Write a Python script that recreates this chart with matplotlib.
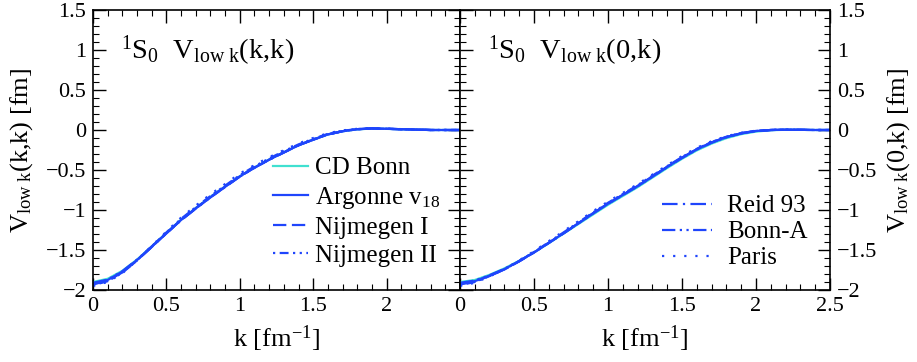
import numpy as np
import matplotlib
matplotlib.use("Agg")
import matplotlib.pyplot as plt
from matplotlib.ticker import MultipleLocator, FuncFormatter

plt.rcParams['font.family'] = ['Liberation Serif', 'DejaVu Serif']
plt.rcParams['mathtext.fontset'] = 'custom'
plt.rcParams['mathtext.rm'] = 'Liberation Serif'
plt.rcParams['mathtext.it'] = 'Liberation Serif:italic'

# momentum grid [fm^-1]
k = [0.0, 0.1, 0.2, 0.3, 0.4, 0.5, 0.6, 0.7, 0.8, 0.9, 1.0, 1.1, 1.2,
     1.3, 1.4, 1.5, 1.6, 1.7, 1.8, 1.9, 2.0, 2.1, 2.2, 2.3, 2.4, 2.5]

# diagonal V_low k(k,k) [fm]
cdbonn_kk = [-1.90, -1.86, -1.76, -1.62, -1.455, -1.285, -1.12, -0.975, -0.835, -0.705, -0.578, -0.468, -0.368,
             -0.278, -0.19, -0.12, -0.056, -0.016, 0.008, 0.018, 0.014, 0.009, 0.004, 0.0, 0.0, 0.0]
av18_kk = [-1.92, -1.875, -1.77, -1.625, -1.46, -1.29, -1.125, -0.98, -0.84, -0.71, -0.58, -0.47, -0.37,
           -0.28, -0.19, -0.12, -0.055, -0.015, 0.01, 0.02, 0.015, 0.01, 0.005, 0.0, 0.0, 0.0]
nijm1_kk = [-1.93, -1.885, -1.78, -1.63, -1.462, -1.292, -1.127, -0.982, -0.842, -0.712, -0.582, -0.472, -0.372,
            -0.281, -0.192, -0.121, -0.056, -0.015, 0.01, 0.02, 0.015, 0.01, 0.005, 0.0, 0.0, 0.0]
nijm2_kk = [-1.94, -1.89, -1.785, -1.63, -1.455, -1.28, -1.11, -0.965, -0.825, -0.695, -0.565, -0.455, -0.355,
            -0.265, -0.18, -0.11, -0.048, -0.01, 0.012, 0.02, 0.015, 0.01, 0.005, 0.0, 0.0, 0.0]
reid93_kk = [-1.925, -1.88, -1.775, -1.628, -1.463, -1.293, -1.128, -0.983, -0.843, -0.713, -0.583, -0.473, -0.372,
             -0.282, -0.192, -0.122, -0.057, -0.016, 0.009, 0.019, 0.015, 0.01, 0.005, 0.0, 0.0, 0.0]
bonna_kk = [-1.91, -1.87, -1.765, -1.62, -1.456, -1.287, -1.122, -0.977, -0.837, -0.707, -0.578, -0.468, -0.368,
            -0.278, -0.19, -0.12, -0.055, -0.015, 0.01, 0.02, 0.015, 0.01, 0.005, 0.0, 0.0, 0.0]
paris_kk = [-1.95, -1.9, -1.79, -1.63, -1.45, -1.27, -1.095, -0.945, -0.805, -0.675, -0.545, -0.438, -0.34,
            -0.252, -0.168, -0.1, -0.04, -0.005, 0.015, 0.022, 0.017, 0.011, 0.005, 0.0, 0.0, 0.0]

# half-off-shell V_low k(0,k) [fm]
cdbonn_0k = [-1.90, -1.875, -1.81, -1.73, -1.635, -1.53, -1.415, -1.295, -1.175, -1.055, -0.935, -0.825, -0.715,
             -0.595, -0.475, -0.36, -0.255, -0.17, -0.102, -0.052, -0.02, -0.003, 0.003, 0.002, 0.0, 0.0]
av18_0k = [-1.92, -1.89, -1.82, -1.74, -1.64, -1.53, -1.41, -1.29, -1.165, -1.04, -0.92, -0.81, -0.70,
           -0.58, -0.46, -0.345, -0.24, -0.155, -0.088, -0.04, -0.012, 0.0, 0.004, 0.002, 0.0, 0.0]
nijm1_0k = [-1.93, -1.895, -1.825, -1.743, -1.642, -1.532, -1.412, -1.292, -1.167, -1.042, -0.922, -0.812, -0.702,
            -0.582, -0.462, -0.347, -0.242, -0.156, -0.089, -0.041, -0.012, 0.0, 0.004, 0.002, 0.0, 0.0]
nijm2_0k = [-1.94, -1.9, -1.826, -1.742, -1.638, -1.525, -1.402, -1.28, -1.155, -1.03, -0.91, -0.8, -0.69,
            -0.571, -0.452, -0.338, -0.235, -0.15, -0.084, -0.038, -0.011, 0.0, 0.004, 0.002, 0.0, 0.0]
reid93_0k = [-1.925, -1.893, -1.823, -1.742, -1.641, -1.531, -1.411, -1.291, -1.166, -1.041, -0.921, -0.811, -0.701,
             -0.581, -0.461, -0.346, -0.241, -0.156, -0.089, -0.041, -0.012, 0.0, 0.004, 0.002, 0.0, 0.0]
bonna_0k = [-1.91, -1.882, -1.815, -1.736, -1.637, -1.528, -1.409, -1.289, -1.165, -1.041, -0.922, -0.813, -0.703,
            -0.584, -0.465, -0.35, -0.245, -0.158, -0.091, -0.043, -0.013, 0.0, 0.004, 0.002, 0.0, 0.0]
paris_0k = [-1.95, -1.91, -1.83, -1.74, -1.63, -1.515, -1.39, -1.265, -1.14, -1.015, -0.895, -0.787, -0.677,
            -0.558, -0.44, -0.325, -0.222, -0.14, -0.078, -0.034, -0.009, 0.001, 0.004, 0.002, 0.0, 0.0]

blue = '#1f45fc'
styles = {
    'CD Bonn': dict(color='#40e0d0', ls='-'),
    r'Argonne v$_{18}$': dict(color=blue, ls='-'),
    'Nijmegen I': dict(color=blue, ls=(0, (6, 2.5))),
    'Nijmegen II': dict(color=blue, ls=(0, (1, 2, 4, 2, 1, 2))),
    'Reid 93': dict(color=blue, ls=(0, (7, 2.4, 1, 2.4))),
    'Bonn-A': dict(color=blue, ls=(0, (6, 2, 1, 2, 1, 2))),
    'Paris': dict(color=blue, ls=(0, (1, 4))),
}
names = list(styles.keys())
diag = [cdbonn_kk, av18_kk, nijm1_kk, nijm2_kk, reid93_kk, bonna_kk, paris_kk]
half = [cdbonn_0k, av18_0k, nijm1_0k, nijm2_0k, reid93_0k, bonna_0k, paris_0k]

fig = plt.figure(figsize=(9.17, 3.62), dpi=100)
W, H = 917, 362
ax1 = fig.add_axes([93 / W, 72 / H, 367 / W, 280 / H])
ax2 = fig.add_axes([460 / W, 72 / H, 370 / W, 280 / H])

fmt = FuncFormatter(lambda v, p: ('%g' % v).replace('-', '\u2212'))

for ax, data in ((ax1, diag), (ax2, half)):
    for name, vals in zip(names, data):
        ax.plot(k, vals, lw=1.6, label=name, **styles[name])
    ax.set_xlim(0, 2.5)
    ax.set_ylim(-2, 1.5)
    ax.xaxis.set_major_locator(MultipleLocator(0.5))
    ax.xaxis.set_minor_locator(MultipleLocator(0.1))
    ax.yaxis.set_major_locator(MultipleLocator(0.5))
    ax.yaxis.set_minor_locator(MultipleLocator(0.1))
    ax.xaxis.set_major_formatter(fmt)
    ax.yaxis.set_major_formatter(fmt)
    ax.tick_params(which='both', direction='in', top=True, right=True, labelsize=16, pad=5)
    ax.tick_params(which='major', length=9, width=1)
    ax.tick_params(which='minor', length=4.5, width=0.8)
    for s in ax.spines.values():
        s.set_linewidth(1.2)
    ax.set_xlabel(r'k [fm$^{-1}$]', fontsize=19)
    ax.xaxis.set_label_coords(0.5, -0.12)

# left panel: hide the 2.5 label (shared with right panel's 0)
ax1.xaxis.set_major_formatter(FuncFormatter(
    lambda v, p: '' if v > 2.4 else ('%g' % v).replace('-', '\u2212')))
ax2.tick_params(axis='y', labelleft=False, labelright=True)

ax1.set_ylabel(r'V$_{\rm low\ k}$(k,k) [fm]', fontsize=19)
ax1.yaxis.set_label_coords(-0.157, 0.5)
ax2.set_ylabel(r'V$_{\rm low\ k}$(0,k) [fm]', fontsize=19)
ax2.yaxis.set_label_position('right')
ax2.yaxis.set_label_coords(1.15, 0.5)
ax2.yaxis.label.set_rotation(90)

ax1.text(0.075, 0.855, r'$^{1}$S$_{0}$  V$_{\rm low\ k}$(k,k)', transform=ax1.transAxes,
         fontsize=20.5, va='center')
ax2.text(0.075, 0.855, r'$^{1}$S$_{0}$  V$_{\rm low\ k}$(0,k)', transform=ax2.transAxes,
         fontsize=20.5, va='center')

h1 = ax1.get_lines()[:4]
ax1.legend(h1, names[:4], loc='upper left', bbox_to_anchor=(0.49, 0.475), frameon=False,
           fontsize=18, handlelength=1.4, handletextpad=0.3, labelspacing=0.22, borderpad=0,
           borderaxespad=0)
h2 = ax2.get_lines()[4:7]
ax2.legend(h2, names[4:], loc='upper left', bbox_to_anchor=(0.546, 0.34), frameon=False,
           fontsize=18, handlelength=2.0, handletextpad=0.6, labelspacing=0.14, borderpad=0,
           borderaxespad=0)

fig.savefig('out.png', dpi=100)
